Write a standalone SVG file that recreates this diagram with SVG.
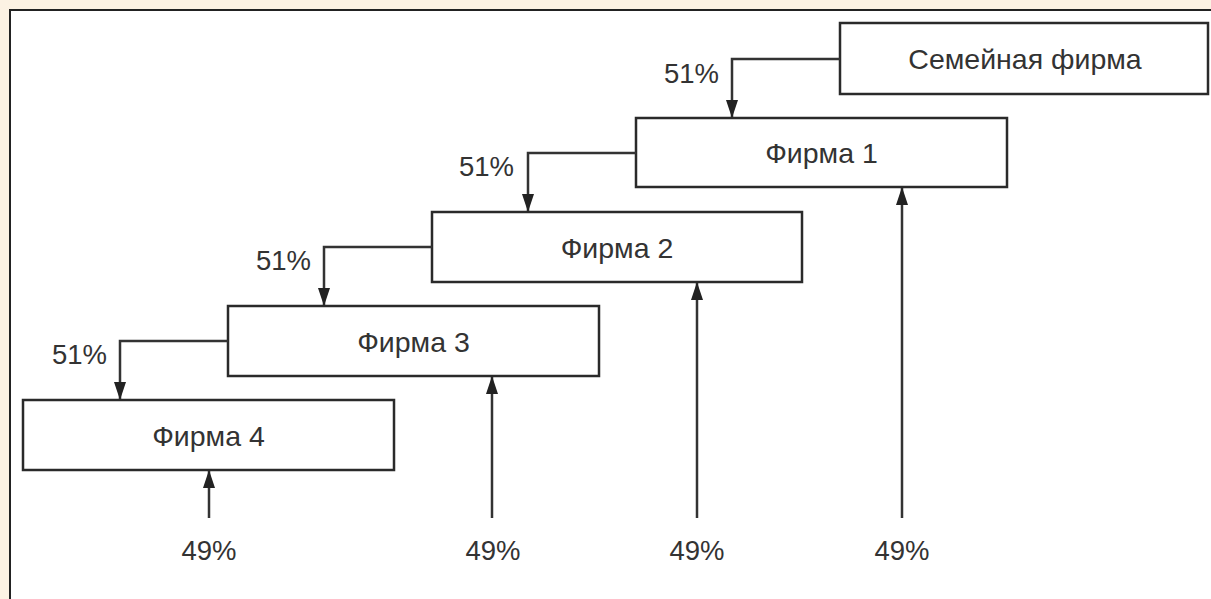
<svg xmlns="http://www.w3.org/2000/svg" width="1211" height="599" viewBox="0 0 1211 599">
<defs>
<style>
.box{fill:#fff;stroke:#2a2a2a;stroke-width:2.5}
.lbl{font-family:"Liberation Sans",Arial,sans-serif;font-size:28.5px;fill:#333;text-anchor:middle}
.pct{font-family:"Liberation Sans",Arial,sans-serif;font-size:27.5px;fill:#333}
.con{fill:none;stroke:#333;stroke-width:2.5}
</style>
<marker id="ah" markerWidth="18" markerHeight="12" refX="17" refY="6" orient="auto" markerUnits="userSpaceOnUse">
<path d="M0,0 L18,6 L0,12 Z" fill="#222"/>
</marker>
</defs>
<rect x="0" y="0" width="1211" height="599" fill="#fcf2e3"/>
<rect x="10" y="10" width="1210" height="600" fill="#fff" stroke="#222" stroke-width="2"/>
<g id="semeynaya">
<rect class="box" x="840" y="23" width="368" height="71"/>
<text class="lbl" x="1025" y="69">Семейная фирма</text>
</g>
<g id="firma1">
<rect class="box" x="636" y="118" width="371" height="69"/>
<text class="lbl" x="821.5" y="163">Фирма 1</text>
</g>
<g id="firma2">
<rect class="box" x="432" y="212" width="370" height="70"/>
<text class="lbl" x="617" y="257.5">Фирма 2</text>
</g>
<g id="firma3">
<rect class="box" x="228" y="306" width="371" height="70"/>
<text class="lbl" x="413.5" y="351.5">Фирма 3</text>
</g>
<g id="firma4">
<rect class="box" x="23" y="400" width="371" height="70"/>
<text class="lbl" x="208.5" y="445.5">Фирма 4</text>
</g>
<g id="connectors">
<path class="con" d="M840,59 H732 V117" marker-end="url(#ah)"/>
<path class="con" d="M636,153 H528 V211" marker-end="url(#ah)"/>
<path class="con" d="M432,247 H324 V305" marker-end="url(#ah)"/>
<path class="con" d="M228,341 H120 V399" marker-end="url(#ah)"/>
<path class="con" d="M209,518 V471" marker-end="url(#ah)"/>
<path class="con" d="M492,518 V377" marker-end="url(#ah)"/>
<path class="con" d="M697,518 V283" marker-end="url(#ah)"/>
<path class="con" d="M902,518 V188" marker-end="url(#ah)"/>
<text class="pct" x="719" y="83" text-anchor="end">51%</text>
<text class="pct" x="514" y="176" text-anchor="end">51%</text>
<text class="pct" x="311" y="270" text-anchor="end">51%</text>
<text class="pct" x="107" y="364" text-anchor="end">51%</text>
<text class="pct" x="209" y="560" text-anchor="middle">49%</text>
<text class="pct" x="493" y="560" text-anchor="middle">49%</text>
<text class="pct" x="697" y="560" text-anchor="middle">49%</text>
<text class="pct" x="902" y="560" text-anchor="middle">49%</text>
</g>
</svg>
